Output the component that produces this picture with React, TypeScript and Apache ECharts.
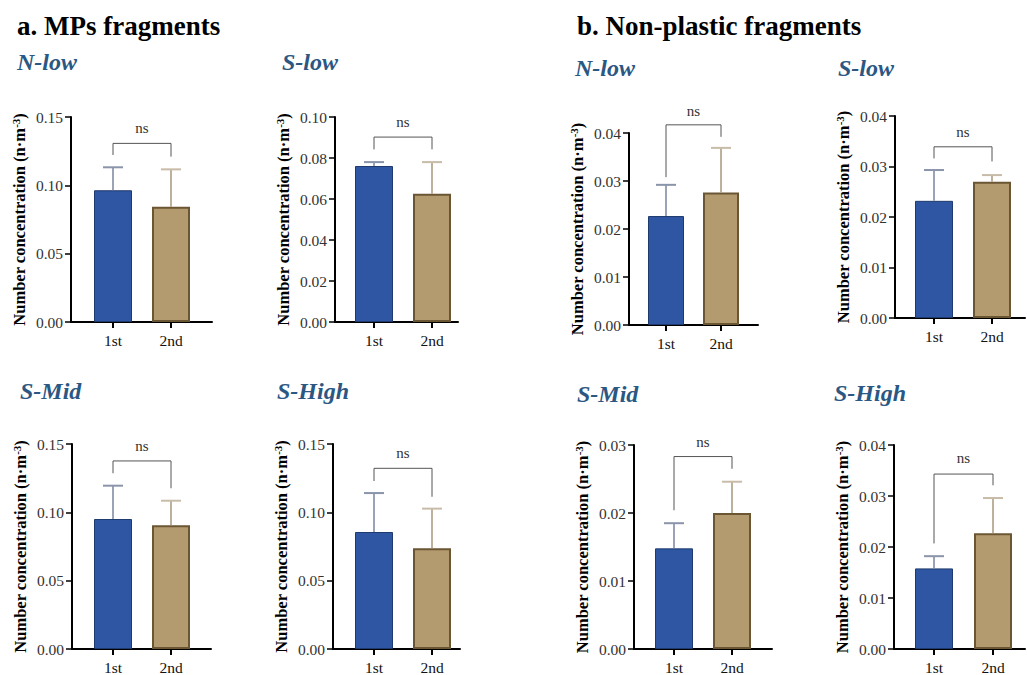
import React, { useEffect, useRef } from "react";
import * as echarts from "echarts";

// categories and values
const groups = ["1st", "2nd"];
const panelNames = ["N-low", "S-low", "N-low", "S-low", "S-Mid", "S-High", "S-Mid", "S-High"];
const meanValues = [
  [0.0964, 0.0844],
  [0.0761, 0.0626],
  [0.0227, 0.0276],
  [0.0232, 0.027],
  [0.0951, 0.0905],
  [0.0856, 0.0737],
  [0.0148, 0.02],
  [0.0158, 0.0227],
];
const sdValues = [
  [0.0168, 0.0273],
  [0.0019, 0.0154],
  [0.0065, 0.0093],
  [0.0061, 0.0013],
  [0.0244, 0.018],
  [0.0285, 0.029],
  [0.0037, 0.0046],
  [0.0024, 0.0069],
];
// bracket: [top, left end, right end, label]
const brackets = [
  [0.1307, 0.1222, 0.121, 0.142],
  [0.0902, 0.0842, 0.0842, 0.0976],
  [0.0417, 0.0308, 0.0392, 0.0446],
  [0.0339, 0.0316, 0.031, 0.0369],
  [0.1376, 0.1286, 0.1176, 0.1485],
  [0.1322, 0.1229, 0.1114, 0.1432],
  [0.0283, 0.0204, 0.0265, 0.0305],
  [0.0343, 0.0207, 0.0321, 0.0374],
];
const sigLabels = ["ns", "ns", "ns", "ns", "ns", "ns", "ns", "ns"];
const yMax = [0.15, 0.1, 0.04, 0.04, 0.15, 0.15, 0.03, 0.04];
const yStep = [0.05, 0.02, 0.01, 0.01, 0.05, 0.05, 0.01, 0.01];

// pixel layout of each panel
const layouts = [
  { axisX: 71, tick1: 113, step: 58, right: 212, top: 117, bottom: 322, barW: 38, tx: 17, ty: 62 },
  { axisX: 335, tick1: 374, step: 58, right: 458, top: 117, bottom: 322, barW: 38, tx: 282, ty: 62 },
  { axisX: 629, tick1: 666, step: 55, right: 758, top: 133, bottom: 325, barW: 36, tx: 575, ty: 68 },
  { axisX: 895, tick1: 934, step: 58, right: 1025, top: 116, bottom: 318, barW: 38, tx: 838, ty: 68 },
  { axisX: 72, tick1: 113, step: 58, right: 211, top: 444, bottom: 649, barW: 38, tx: 20, ty: 391 },
  { axisX: 333, tick1: 374, step: 58, right: 460, top: 444, bottom: 649, barW: 38, tx: 277, ty: 391 },
  { axisX: 634, tick1: 674, step: 58, right: 772, top: 445, bottom: 650, barW: 38, tx: 577, ty: 394 },
  { axisX: 894, tick1: 934, step: 59, right: 1025, top: 445, bottom: 650, barW: 38, tx: 834, ty: 393 },
];

const SERIF = "Liberation Serif";
const barFill = ["#2e56a2", "#b49b6f"];
const barBorder = ["#1e3a6e", "#6b5634"];
const barBorderW = [1, 2];
const errColor = ["#7a869e", "#a8977a"];
const capColor = ["#8a94aa", "#c8bca8"];

const App: React.FC = () => {
  const chartRef = useRef<HTMLDivElement>(null);

  useEffect(() => {
    const chart = echarts.init(chartRef.current, null, { renderer: "svg" });

    const grid: any[] = [];
    const xAxis: any[] = [];
    const yAxis: any[] = [];
    const series: any[] = [];
    const graphic: any[] = [
      {
        type: "text",
        x: 17,
        y: 26,
        style: { text: "a. MPs fragments", font: `bold 27px ${SERIF}`, fill: "#000", verticalAlign: "middle" },
      },
      {
        type: "text",
        x: 577,
        y: 26,
        style: { text: "b. Non-plastic fragments", font: `bold 27px ${SERIF}`, fill: "#000", verticalAlign: "middle" },
      },
    ];

    layouts.forEach((l, i) => {
      grid.push({ left: l.axisX, top: l.top, width: l.right - l.axisX, height: l.bottom - l.top });
      xAxis.push({
        type: "value",
        gridIndex: i,
        min: -(l.tick1 - l.axisX) / l.step,
        max: 1 + (l.right - l.tick1 - l.step) / l.step,
        axisLine: { show: true, onZero: false, lineStyle: { color: "#000", width: 2 } },
        axisTick: { show: true, customValues: [0, 1], length: 6, lineStyle: { color: "#000", width: 2 } },
        axisLabel: {
          show: true,
          customValues: [0, 1],
          margin: 10,
          formatter: (v: number) => groups[Math.round(v)],
          fontFamily: SERIF,
          fontSize: 15.5,
          color: "#111",
        },
        splitLine: { show: false },
      });
      yAxis.push({
        type: "value",
        gridIndex: i,
        min: 0,
        max: yMax[i],
        interval: yStep[i],
        name: "{b|Number concentration (n·m}{s|-3}{b|)}",
        nameLocation: "middle",
        nameRotate: 90,
        nameGap: 42,
        nameTextStyle: {
          rich: {
            b: { fontFamily: SERIF, fontWeight: "bold", fontSize: 16.5, lineHeight: 19, color: "#000" },
            s: { fontFamily: SERIF, fontWeight: "bold", fontSize: 11, lineHeight: 11, verticalAlign: "top", color: "#000" },
          },
        },
        axisLine: { show: true, onZero: false, lineStyle: { color: "#000", width: 2 } },
        axisTick: { show: true, length: 6, lineStyle: { color: "#000", width: 1.5 } },
        axisLabel: {
          margin: 8,
          formatter: (v: number) => v.toFixed(2),
          fontFamily: SERIF,
          fontSize: 15.5,
          color: "#333",
        },
        splitLine: { show: false },
      });

      series.push({
        type: "bar",
        xAxisIndex: i,
        yAxisIndex: i,
        barWidth: l.barW,
        data: meanValues[i].map((v, k) => ({
          value: [k, v],
          itemStyle: { color: barFill[k], borderColor: barBorder[k], borderWidth: barBorderW[k] },
        })),
      });

      series.push({
        type: "custom",
        xAxisIndex: i,
        yAxisIndex: i,
        z: 3,
        encode: { x: 0, y: 1 },
        data: meanValues[i].map((v, k) => [k, v, sdValues[i][k]]),
        renderItem: (params: any, api: any) => {
          const k = params.dataIndex;
          const x = api.value(0);
          const m = api.value(1);
          const s = api.value(2);
          const p0 = api.coord([x, m]);
          const p1 = api.coord([x, m + s]);
          return {
            type: "group",
            children: [
              { type: "line", shape: { x1: p0[0], y1: p0[1], x2: p1[0], y2: p1[1] }, style: { stroke: errColor[k], lineWidth: 1.5 } },
              { type: "line", shape: { x1: p1[0] - 10, y1: p1[1], x2: p1[0] + 10, y2: p1[1] }, style: { stroke: capColor[k], lineWidth: 2 } },
            ],
          };
        },
      });

      series.push({
        type: "custom",
        xAxisIndex: i,
        yAxisIndex: i,
        z: 3,
        clip: false,
        encode: { x: [0, 1], y: [2] },
        data: [[0, 1, ...brackets[i]]],
        renderItem: (params: any, api: any) => {
          const top = api.value(2);
          const pl = api.coord([api.value(0), api.value(3)]);
          const pr = api.coord([api.value(1), api.value(4)]);
          const tl = api.coord([api.value(0), top]);
          const tr = api.coord([api.value(1), top]);
          const lab = api.coord([(api.value(0) + api.value(1)) / 2, api.value(5)]);
          return {
            type: "group",
            children: [
              {
                type: "polyline",
                shape: { points: [pl, tl, tr, pr] },
                style: { stroke: "#555", lineWidth: 1, fill: "none" },
              },
              {
                type: "text",
                x: lab[0],
                y: lab[1],
                style: { text: sigLabels[i], font: `15px ${SERIF}`, fill: "#333", align: "center", verticalAlign: "middle" },
              },
            ],
          };
        },
      });

      graphic.push({
        type: "text",
        x: l.tx,
        y: l.ty,
        style: {
          text: panelNames[i],
          font: `italic bold 24px ${SERIF}`,
          fill: "#2b5783",
          verticalAlign: "middle",
        },
      });
    });

    chart.setOption({
      animation: false,
      backgroundColor: "#fff",
      grid,
      xAxis,
      yAxis,
      series,
      graphic,
    });

    return () => {
      chart.dispose();
    };
  }, []);

  return (
    <div
      ref={chartRef}
      style={{ position: "absolute", left: 0, top: 0, width: 1027, height: 675 }}
    />
  );
};

export default App;
